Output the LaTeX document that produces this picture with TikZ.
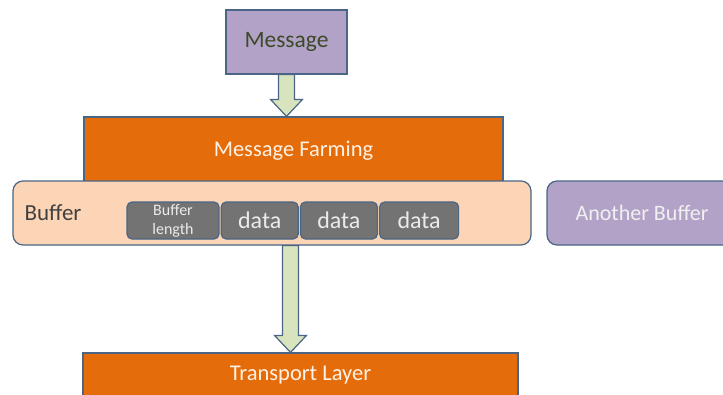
\documentclass[tikz,border=0pt]{standalone}
\usepackage{fontspec}
\setmainfont{Carlito}
\usetikzlibrary{calc}
\usetikzlibrary{positioning}

\definecolor{lilac}{HTML}{B3A2C7}
\definecolor{rust}{HTML}{E46C0A}
\definecolor{peach}{HTML}{FBD5B5}
\definecolor{slate}{HTML}{4A6586}
\definecolor{cellgray}{HTML}{737373}
\definecolor{sage}{HTML}{D7E4BD}
\definecolor{olivetext}{HTML}{3C4A28}

\tikzset{
  lilacbox/.style={draw=slate, line width=1.2pt, fill=lilac, minimum height=64pt},
  layerbox/.style={draw=slate, line width=1.2pt, fill=rust, text=orange!10, font=\fontsize{22.5}{24}\selectfont},
  cell/.style={draw=slate, line width=1.2pt, fill=cellgray, rounded corners=5pt, minimum height=37pt,
    text=white!92!black, font=\fontsize{24}{26}\selectfont, inner sep=0pt},
  arrowfill/.style={draw=slate, line width=1.2pt, fill=sage, line join=miter}
}

% block arrow from #1 down to the tip #2
\newcommand{\blockarrow}[2]{
  \draw[arrowfill] ($(#1)+(-8,0)$) -- ($(#2)+(-8,-17)$) -- ($(#2)+(-16,-17)$) -- (#2)
    -- ($(#2)+(16,-17)$) -- ($(#2)+(8,-17)$) -- ($(#1)+(8,0)$) -- cycle;
}

\begin{document}
\begin{tikzpicture}[x=1pt, y=-1pt]
  \useasboundingbox (0,0) rectangle (723,394);
  \clip (0,0) rectangle (723,394);

  \node[lilacbox, minimum width=121pt, text=olivetext, font=\fontsize{23.5}{25}\selectfont]
    (msg) at (286.5,42) {Message};
  \node[layerbox, minimum width=419pt, minimum height=68pt] (farm) at (293.5,151) {Message Farming};

  \node[draw=slate, line width=1.2pt, fill=peach, rounded corners=10pt,
    minimum width=518pt, minimum height=64pt] (buf) at (272,213) {};
  \node[anchor=west, text=black!75, font=\fontsize{23}{24}\selectfont, inner sep=0pt] (buflbl)
    at ($(buf.west)+(12,0)$) {Buffer};

  \node[cell, minimum width=92pt, align=center, font=\fontsize{16}{19}\selectfont]
    (len) at (173,220.5) {Buffer\\length};
  \node[cell, minimum width=77pt, right=1pt of len] (dataA) {data};
  \node[cell, minimum width=77pt, right=1pt of dataA] (dataB) {data};
  \node[cell, minimum width=79pt, right=1pt of dataB] (dataC) {data};

  \node[lilacbox, rounded corners=10pt, minimum width=190pt, text=white!94!black,
    font=\fontsize{22}{24}\selectfont] (other) at (642,213) {Another Buffer};

  \node[layerbox, minimum width=435pt, minimum height=44pt] (trans) at (300.5,375) {Transport Layer};

  \coordinate (tipA) at (msg.south |- farm.north);
  \blockarrow{msg.south}{tipA}
  \coordinate (tipB) at ($(trans.north)+(-10,0)$);
  \coordinate (tailB) at (tipB |- buf.south);
  \blockarrow{tailB}{tipB}
\end{tikzpicture}
\end{document}
